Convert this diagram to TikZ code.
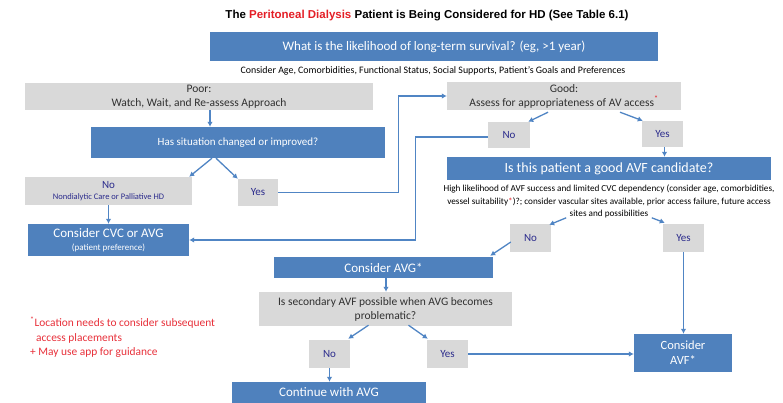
\documentclass[tikz,border=0pt]{standalone}
\usepackage{fontspec}
\setmainfont{Carlito}
\newfontfamily\titlefont{Liberation Sans}
\usetikzlibrary{arrows.meta}
\definecolor{boxblue}{HTML}{4F81BD}
\definecolor{boxgray}{HTML}{D9D9D9}
\definecolor{navytxt}{HTML}{2B2B8C}
\definecolor{darktxt}{HTML}{303030}
\definecolor{arrblue}{HTML}{5085C4}
\definecolor{titlered}{HTML}{E41E26}
\definecolor{notered}{HTML}{E8303A}
\newcommand{\fs}[2]{\fontsize{#1}{#2}\selectfont}
\begin{document}
\begin{tikzpicture}[x=1pt,y=-1pt,
  bluebox/.style={fill=boxblue, text=white, inner sep=0pt, align=center, draw=none},
  graybox/.style={fill=boxgray, text=darktxt, inner sep=0pt, align=center, draw=none},
  yn/.style={fill=boxgray, text=navytxt, inner sep=0pt, align=center, font=\fs{11}{12}},
  arr/.style={draw=arrblue, line width=1.3pt, -{Latex[length=5pt,width=5.5pt]}},
  plain/.style={inner sep=0pt, align=center}]
\useasboundingbox (0,0) rectangle (783,403);
\fill[white] (0,0) rectangle (783,403);

% title
\node[plain, font=\titlefont\bfseries\fs{11.5}{13}] (title) at (427,16)
  {The {\color{titlered}Peritoneal Dialysis} Patient is Being Considered for HD (See Table 6.1)};

\node[bluebox, minimum width=448pt, minimum height=29pt, font=\fs{13}{15}] (top) at (434,46.5)
  {What is the likelihood of long-term survival? (eg, >1 year)};
\node[plain, font=\fs{9.9}{11}] (sub) at (433,70.5)
  {Consider Age, Comorbidities, Functional Status, Social Supports, Patient’s Goals and Preferences};

% left branch
\node[graybox, minimum width=348pt, minimum height=27pt, font=\fs{11.5}{14}] (poor) at (199,96.5)
  {Poor:\\Watch, Wait, and Re-assess Approach};
\node[bluebox, minimum width=294pt, minimum height=31pt, font=\fs{11}{13}] (has) at (238,142.5)
  {Has situation changed or improved?};
\node[yn, minimum width=167pt, minimum height=28pt] (noL) at (108.5,191)
  {No\\[-1.5pt]{\fs{8.5}{9}Nondialytic Care or Palliative HD}};
\node[yn, minimum width=40pt, minimum height=27pt] (yesL) at (258,192.5) {Yes};
\node[bluebox, minimum width=161pt, minimum height=32pt, font=\fs{13}{14}] (cvc) at (108.5,240)
  {Consider CVC or AVG\\[-1.5pt]{\fs{9}{10}(patient preference)}};

% right branch
\node[graybox, minimum width=234pt, minimum height=28pt, font=\fs{11.5}{14}] (good) at (564,96)
  {Good:\\Assess for appropriateness of AV access{\color{titlered}\textsuperscript{*}}};
\node[yn, minimum width=42pt, minimum height=26pt] (noG) at (509,135) {No};
\node[yn, minimum width=41pt, minimum height=26pt] (yesG) at (662.5,134) {Yes};
\node[bluebox, minimum width=324pt, minimum height=23pt, font=\fs{14}{15}] (avfq) at (609,168.5)
  {Is this patient a good AVF candidate?};
\node[plain, font=\fs{9.2}{12.5}, text=black] (crit) at (609,201.5)
  {High likelihood of AVF success and limited CVC dependency (consider age, comorbidities,\\
   vessel suitability{\color{titlered}*})?; consider vascular sites available, prior access failure, future access\\
   sites and possibilities};
\node[yn, minimum width=41pt, minimum height=28pt] (noA) at (530.5,238) {No};
\node[yn, minimum width=41pt, minimum height=28pt] (yesA) at (683.5,238) {Yes};
\node[bluebox, minimum width=219pt, minimum height=21pt, font=\fs{13}{14}] (avg) at (383.5,267.5)
  {Consider AVG*};
\node[graybox, minimum width=253pt, minimum height=34pt, font=\fs{11.5}{14}] (sec) at (385.5,309)
  {Is secondary AVF possible when AVG becomes\\problematic?};
\node[yn, minimum width=41pt, minimum height=28pt] (noS) at (329.5,354) {No};
\node[yn, minimum width=41pt, minimum height=28pt] (yesS) at (447.5,354) {Yes};
\node[bluebox, minimum width=194pt, minimum height=21pt, font=\fs{13}{14}] (cont) at (329,392.5)
  {Continue with AVG};
\node[bluebox, minimum width=98pt, minimum height=38pt, font=\fs{12.5}{15}] (avfC) at (683,353)
  {Consider\\AVF*};

% note
\node[inner sep=0pt, anchor=west, align=left, text=notered, font=\fs{11.4}{14.5}] (note) at (30,337.5)
  {\textsuperscript{*}Location needs to consider subsequent\\
   \hspace*{6pt}access placements\\
   + May use app for guidance};

% connectors
\draw[arr] ([xshift=11pt]poor.south) -- ([xshift=11pt]poor.south |- has.north);
\draw[arr] ([xshift=-26pt]has.south) -- ([xshift=-3pt]noL.north east);
\draw[arr] ([xshift=-22pt]has.south) -- (yesL.north west);
\draw[arr] (yesL.east) -- ++(120,0) |- (good.west);
\draw[arr] ([xshift=-16pt,yshift=-2pt]good.south) -- ([xshift=-2pt]noG.north east);
\draw[arr] ([xshift=56pt,yshift=-2pt]good.south) -- ([xshift=1pt]yesG.north west);
\draw[arr] ([yshift=-2pt]noG.west) -- ++(-72,0) |- (cvc.east);
\draw[arr] ([xshift=2pt]yesG.south) -- ([xshift=2pt]yesG.south |- avfq.north);
\draw[arr] ([shift={(15,-6)}]noA.north east) -- ([shift={(-2,1)}]noA.north east);
\draw[arr] ([shift={(-11,-6)}]yesA.north west) -- ([shift={(2,-1)}]yesA.north west);
\draw[arr] ([shift={(1,4)}]noA.west) -- ([shift={(-3,-1)}]avg.north east);
\draw[arr] ([xshift=2.5pt]avg.south) -- ([xshift=2.5pt]avg.south |- sec.north);
\draw[arr] ([shift={(-17,-1)}]sec.south) -- ([shift={(-2,-1)}]noS.north east);
\draw[arr] ([shift={(23,-1)}]sec.south) -- ([shift={(1,-1)}]yesS.north west);
\draw[arr] (noS.south) -- (noS.south |- cont.north);
\draw[arr] (yesS.east) -- (yesS.east -| avfC.west);
\draw[arr] (yesA.south) -- (yesA.south |- avfC.north);
\draw[arr] (noL.south) -- (noL.south |- cvc.north);
\end{tikzpicture}
\end{document}
